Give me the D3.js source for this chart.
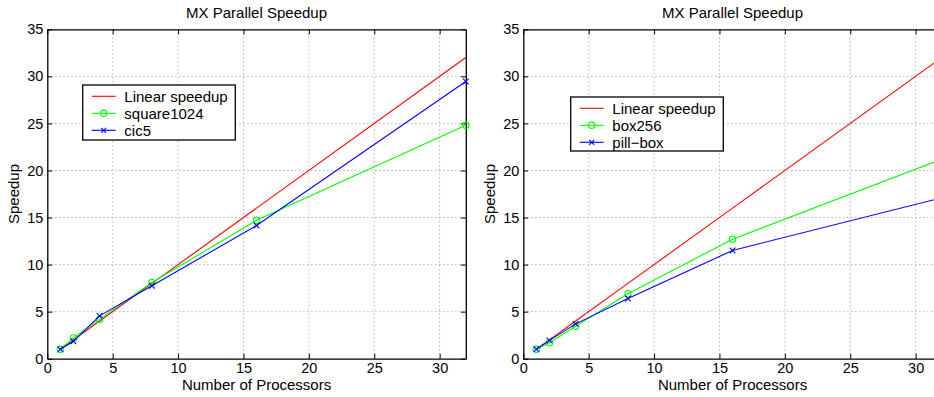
<!DOCTYPE html>
<html>
<head>
<meta charset="utf-8">
<script src="https://d3js.org/d3.v7.min.js"></script>
<style>
  html, body { margin: 0; padding: 0; background: #fff; overflow: hidden; }
  svg { display: block; font-family: "Liberation Sans", Arial, Helvetica, sans-serif; }
</style>
</head>
<body>
<svg id="chart" width="934" height="397"></svg>
<script>
// data
const processors = [1, 2, 4, 8, 16, 32];
const linearSpeedup = [1, 2, 4, 8, 16, 32];
const square1024 = [1.0, 2.2, 4.2, 8.1, 14.7, 24.8];
const cic5 = [1.0, 1.85, 4.55, 7.75, 14.15, 29.45];
const box256 = [1.0, 1.7, 3.45, 6.9, 12.7, 21.2];
const pillBox = [1.0, 1.95, 3.7, 6.4, 11.5, 17.1];
const xTicks = [0, 5, 10, 15, 20, 25, 30];
const yTicks = [0, 5, 10, 15, 20, 25, 30, 35];

const chartTitle = "MX Parallel Speedup";
const xLabel = "Number of Processors";
const yLabel = "Speedup";

const panels = [
  {
    left: 47.3, series: [
      { name: "Linear speedup", values: linearSpeedup, color: "#ff0000", marker: null },
      { name: "square1024", values: square1024, color: "#00ff00", marker: "circle" },
      { name: "cic5", values: cic5, color: "#0000ff", marker: "x" }
    ],
    legend: { x: 82.7, y: 85, w: 152.6, h: 55 }
  },
  {
    left: 523.3, series: [
      { name: "Linear speedup", values: linearSpeedup, color: "#ff0000", marker: null },
      { name: "box256", values: box256, color: "#00ff00", marker: "circle" },
      { name: "pill\u2212box", values: pillBox, color: "#0000ff", marker: "x" }
    ],
    legend: { x: 570.7, y: 97, w: 152.6, h: 54 }
  }
];

const svg = d3.select("#chart");
const plotTop = 29.3, plotBottom = 358.7, plotW = 418.5;

panels.forEach(p => {
  const x = d3.scaleLinear().domain([0, 32]).range([p.left, p.left + plotW]);
  const y = d3.scaleLinear().domain([0, 35]).range([plotBottom, plotTop]);
  const g = svg.append("g");

  // dotted grid
  g.append("g").selectAll("line").data(xTicks.filter(d => d > 0)).join("line")
    .attr("x1", d => x(d)).attr("x2", d => x(d)).attr("y1", plotTop).attr("y2", plotBottom)
    .attr("stroke", "#777").attr("stroke-width", 0.8).attr("stroke-dasharray", "1,3");
  g.append("g").selectAll("line").data(yTicks.filter(d => d > 0 && d < 35)).join("line")
    .attr("x1", p.left).attr("x2", p.left + plotW).attr("y1", d => y(d)).attr("y2", d => y(d))
    .attr("stroke", "#777").attr("stroke-width", 0.8).attr("stroke-dasharray", "1,3");

  // axes (ticks inside, on all four sides)
  const axStyle = sel => {
    sel.select(".domain").attr("stroke", "#000").attr("stroke-width", 1.3);
    sel.selectAll(".tick line").attr("stroke", "#000");
    sel.selectAll("text").attr("font-size", 14.5).attr("fill", "#000")
      .attr("font-family", "'Liberation Sans', Arial, sans-serif");
  };
  g.append("g").attr("transform", `translate(0,${plotBottom})`)
    .call(d3.axisBottom(x).tickValues(xTicks).tickSizeInner(-5).tickSizeOuter(0).tickPadding(4))
    .call(axStyle);
  g.append("g").attr("transform", `translate(${p.left},0)`)
    .call(d3.axisLeft(y).tickValues(yTicks).tickSizeInner(-5).tickSizeOuter(0).tickPadding(4))
    .call(axStyle);
  g.append("g").attr("transform", `translate(0,${plotTop})`)
    .call(d3.axisTop(x).tickValues(xTicks).tickSizeInner(-5).tickSizeOuter(0).tickFormat(""))
    .call(axStyle);
  g.append("g").attr("transform", `translate(${p.left + plotW},0)`)
    .call(d3.axisRight(y).tickValues(yTicks).tickSizeInner(-5).tickSizeOuter(0).tickFormat(""))
    .call(axStyle);

  // series
  const line = d3.line().x((d, i) => x(processors[i])).y(d => y(d));
  p.series.forEach(s => {
    g.append("path").datum(s.values).attr("d", line)
      .attr("fill", "none").attr("stroke", s.color).attr("stroke-width", 1.1);
    if (s.marker === "circle") {
      g.append("g").selectAll("circle").data(s.values).join("circle")
        .attr("cx", (d, i) => x(processors[i])).attr("cy", d => y(d)).attr("r", 3.2)
        .attr("fill", "none").attr("stroke", s.color).attr("stroke-width", 1.1);
    } else if (s.marker === "x") {
      g.append("g").selectAll("path").data(s.values).join("path")
        .attr("d", (d, i) => {
          const cx = x(processors[i]), cy = y(d), r = 2.8;
          return `M${cx - r},${cy - r}L${cx + r},${cy + r}M${cx - r},${cy + r}L${cx + r},${cy - r}`;
        })
        .attr("stroke", s.color).attr("stroke-width", 1.1);
    }
  });

  // title and axis labels
  const cx = p.left + plotW / 2;
  g.append("text").attr("x", cx).attr("y", 18).attr("text-anchor", "middle")
    .attr("font-size", 15).text(chartTitle);
  g.append("text").attr("x", cx).attr("y", 390).attr("text-anchor", "middle")
    .attr("font-size", 15).text(xLabel);
  g.append("text").attr("transform", `translate(${p.left - 28},${(plotTop + plotBottom) / 2}) rotate(-90)`)
    .attr("text-anchor", "middle").attr("font-size", 15).text(yLabel);

  // legend
  const L = p.legend;
  const lg = g.append("g");
  lg.append("rect").attr("x", L.x).attr("y", L.y).attr("width", L.w).attr("height", L.h)
    .attr("fill", "#fff").attr("stroke", "#000").attr("stroke-width", 1.3);
  const rowY = i => L.y + 11.3 + i * 17;
  p.series.forEach((s, i) => {
    const ly = rowY(i), x0 = L.x + 9, x1 = L.x + 33, mx = (x0 + x1) / 2;
    lg.append("line").attr("x1", x0).attr("x2", x1).attr("y1", ly).attr("y2", ly)
      .attr("stroke", s.color).attr("stroke-width", 1.1);
    if (s.marker === "circle") {
      lg.append("circle").attr("cx", mx).attr("cy", ly).attr("r", 3.2)
        .attr("fill", "none").attr("stroke", s.color).attr("stroke-width", 1.1);
    } else if (s.marker === "x") {
      const r = 2.5;
      lg.append("path").attr("d", `M${mx - r},${ly - r}L${mx + r},${ly + r}M${mx - r},${ly + r}L${mx + r},${ly - r}`)
        .attr("stroke", s.color).attr("stroke-width", 1.1);
    }
    lg.append("text").attr("x", L.x + 41.6).attr("y", ly + 5.3).attr("font-size", 15).text(s.name);
  });
});
</script>
</body>
</html>
